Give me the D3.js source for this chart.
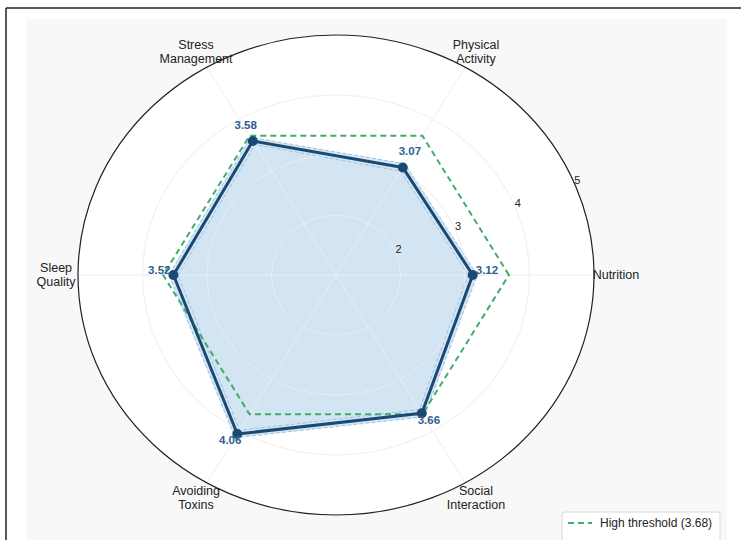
<!DOCTYPE html>
<html>
<head>
<meta charset="utf-8">
<script src="https://cdn.jsdelivr.net/npm/d3@7/dist/d3.min.js"></script>
<style>
  html, body { margin: 0; padding: 0; background: #ffffff; }
  svg { display: block; font-family: "Liberation Sans", Arial, sans-serif; }
</style>
</head>
<body>
<svg id="chart" width="741" height="540"></svg>
<script>
const categories = ["Nutrition", "Physical\nActivity", "Stress\nManagement", "Sleep\nQuality", "Avoiding\nToxins", "Social\nInteraction"];
const scores = [3.12, 3.07, 3.58, 3.52, 4.06, 3.66];
const thresholdValue = 3.68;
const thresholdLabel = "High threshold (3.68)";
const radialTicks = [2, 3, 4, 5];
const bandWidth = 0.07;

const svg = d3.select("#chart");
const W = 741, H = 540;
const cx = 336, cy = 275, RX = 258, RY = 240;

// frame & panel
svg.append("rect").attr("x", 0).attr("y", 0).attr("width", W).attr("height", H).attr("fill", "#ffffff");
svg.append("rect").attr("x", 26).attr("y", 19).attr("width", 701).attr("height", 530).attr("fill", "#f8f8f8");
svg.append("line").attr("x1", 6).attr("x2", W).attr("y1", 8).attr("y2", 8).attr("stroke", "#222").attr("stroke-width", 1.5);
svg.append("line").attr("x1", 6).attr("x2", 6).attr("y1", 8).attr("y2", H).attr("stroke", "#222").attr("stroke-width", 1.5);

const r = d3.scaleLinear().domain([1, 5]).range([0, 1]);
const n = categories.length;
const angle = d3.scaleLinear().domain([0, n]).range([0, 2 * Math.PI]);
function pt(i, v) {
  const a = angle(i), t = r(v);
  return [cx + RX * t * Math.cos(a), cy - RY * t * Math.sin(a)];
}

// polar background
svg.append("ellipse").attr("cx", cx).attr("cy", cy).attr("rx", RX).attr("ry", RY).attr("fill", "#ffffff");

// grid circles
radialTicks.filter(d => d < 5).forEach(v => {
  svg.append("ellipse").attr("cx", cx).attr("cy", cy)
    .attr("rx", RX * r(v)).attr("ry", RY * r(v))
    .attr("fill", "none").attr("stroke", "#e8e8e8").attr("stroke-width", 1);
});
// spokes
categories.forEach((c, i) => {
  const p = pt(i, 5);
  svg.append("line").attr("x1", cx).attr("y1", cy).attr("x2", p[0]).attr("y2", p[1])
    .attr("stroke", "#e8e8e8").attr("stroke-width", 1);
});

const line = d3.line().curve(d3.curveLinearClosed);

// band
const upper = scores.map((v, i) => pt(i, v + bandWidth));
const lower = scores.map((v, i) => pt(i, v - bandWidth));
svg.append("path").attr("d", line(upper)).attr("fill", "#c9def0").attr("fill-opacity", 0.8)
  .attr("stroke", "#9cc4e6").attr("stroke-width", 1).attr("stroke-dasharray", "4,2");

// main fill
const mainPts = scores.map((v, i) => pt(i, v));
svg.append("path").attr("d", line(lower)).attr("fill", "#d3e4f2").attr("fill-opacity", 1)
  .attr("stroke", "#9cc4e6").attr("stroke-width", 1).attr("stroke-dasharray", "4,2");

// inner gridlines visible through the fill
radialTicks.filter(d => d < 5).forEach(v => {
  svg.append("ellipse").attr("cx", cx).attr("cy", cy)
    .attr("rx", RX * r(v)).attr("ry", RY * r(v))
    .attr("fill", "none").attr("stroke", "#ffffff").attr("stroke-opacity", 0.4).attr("stroke-width", 1);
});
categories.forEach((c, i) => {
  const p = pt(i, 5);
  svg.append("line").attr("x1", cx).attr("y1", cy).attr("x2", p[0]).attr("y2", p[1])
    .attr("stroke", "#ffffff").attr("stroke-opacity", 0.4).attr("stroke-width", 1);
});

// threshold
const thrPts = categories.map((c, i) => pt(i, thresholdValue));
svg.append("path").attr("d", line(thrPts)).attr("fill", "none")
  .attr("stroke", "#3dae6a").attr("stroke-width", 2).attr("stroke-dasharray", "6,4");

// main line
svg.append("path").attr("d", line(mainPts)).attr("fill", "none")
  .attr("stroke", "#1a4a73").attr("stroke-width", 3).attr("stroke-linejoin", "round");
svg.selectAll("circle.pt").data(mainPts).enter().append("circle")
  .attr("class", "pt").attr("cx", d => d[0]).attr("cy", d => d[1]).attr("r", 5)
  .attr("fill", "#1a4a73");

// outer circle
svg.append("ellipse").attr("cx", cx).attr("cy", cy).attr("rx", RX).attr("ry", RY)
  .attr("fill", "none").attr("stroke", "#222").attr("stroke-width", 1.2);

// radial tick labels at 22.5deg
radialTicks.forEach(v => {
  const a = Math.PI / 8, t = r(v);
  svg.append("text").attr("x", cx + 3 + RX * t * Math.cos(a)).attr("y", cy - 3 - RY * t * Math.sin(a))
    .attr("text-anchor", "middle").attr("dominant-baseline", "central")
    .attr("font-size", 11).attr("fill", "#222").text(v);
});

// value labels
scores.forEach((v, i) => {
  const p = pt(i, v + 0.22);
  svg.append("text").attr("x", p[0]).attr("y", p[1] - 5)
    .attr("text-anchor", "middle").attr("dominant-baseline", "central")
    .attr("font-size", 11.5).attr("font-weight", "bold").attr("fill", "#2e6090").text(v.toFixed(2));
});

// axis labels
categories.forEach((c, i) => {
  const a = angle(i);
  const x = cx + RX * 1.085 * Math.cos(a), y = cy - RY * 1.075 * Math.sin(a);
  const lines = c.split("\n");
  const t = svg.append("text").attr("x", x).attr("y", y)
    .attr("text-anchor", "middle").attr("font-size", 12.5).attr("fill", "#222");
  lines.forEach((l, k) => {
    t.append("tspan").attr("x", x)
      .attr("dy", k === 0 ? (-(lines.length - 1) * 7 + 4) : 14).text(l);
  });
});

// legend
const lg = svg.append("g").attr("transform", "translate(562,512)");
lg.append("rect").attr("x", 0).attr("y", 0).attr("width", 158).attr("height", 32).attr("rx", 2)
  .attr("fill", "#ffffff").attr("stroke", "#d8d8d8");
lg.append("line").attr("x1", 6).attr("x2", 30).attr("y1", 11).attr("y2", 11)
  .attr("stroke", "#3dae6a").attr("stroke-width", 2).attr("stroke-dasharray", "6,4");
lg.append("text").attr("x", 38).attr("y", 15).attr("font-size", 12).attr("fill", "#222").text(thresholdLabel);
</script>
</body>
</html>
